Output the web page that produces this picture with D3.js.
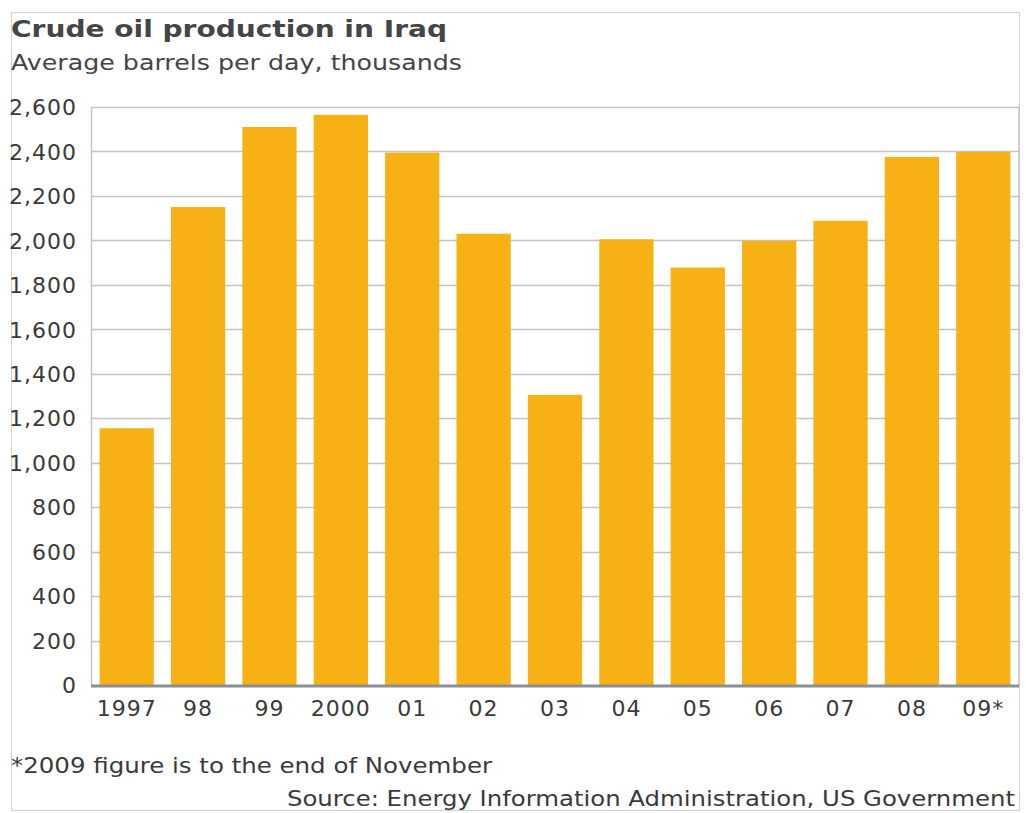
<!DOCTYPE html>
<html><head><meta charset="utf-8">
<script src="https://cdn.jsdelivr.net/npm/d3@7"></script>
<style>body{margin:0;background:#fff;} svg{display:block;}</style>
</head><body>
<svg id="chart" width="1026" height="813"></svg>
<script>
const years = ["1997","98","99","2000","01","02","03","04","05","06","07","08","09*"];
const production = [1155, 2150, 2510, 2565, 2395, 2030, 1305, 2005, 1878, 1998, 2088, 2375, 2398];
const yTicks = [0,200,400,600,800,1000,1200,1400,1600,1800,2000,2200,2400,2600];

const svg = d3.select("#chart");
const font = "Verdana, 'DejaVu Sans', sans-serif";
const m = {left: 91, right: 1019, top: 107, bottom: 685};

// frame
svg.append("rect").attr("x",11.5).attr("y",12.5).attr("width",1008).attr("height",798)
  .attr("fill","none").attr("stroke","#d0d0d0").attr("stroke-width",1);

const x = d3.scaleBand().domain(years).range([m.left, m.right]).paddingInner(0.24).paddingOuter(0.12);
const y = d3.scaleLinear().domain([0,2600]).range([m.bottom, m.top]);

// gridlines
svg.append("g").selectAll("line").data(yTicks.filter(d=>d>0)).join("line")
  .attr("x1",m.left).attr("x2",m.right)
  .attr("y1",d=>Math.round(y(d))+0.5).attr("y2",d=>Math.round(y(d))+0.5)
  .attr("stroke","#c4c4c4").attr("stroke-width",1.5);
// plot side lines
svg.append("line").attr("x1",m.left+0.5).attr("x2",m.left+0.5).attr("y1",m.top).attr("y2",m.bottom)
  .attr("stroke","#c4c4c4").attr("stroke-width",1.5);
svg.append("line").attr("x1",m.right).attr("x2",m.right).attr("y1",m.top).attr("y2",m.bottom)
  .attr("stroke","#c4c4c4").attr("stroke-width",1.5);

// bars
svg.append("g").selectAll("rect").data(years).join("rect")
  .attr("x",d=>x(d)).attr("width",x.bandwidth())
  .attr("y",(d,i)=>y(production[i])).attr("height",(d,i)=>y(0)-y(production[i]))
  .attr("fill","#F8B115");

// baseline
svg.append("line").attr("x1",m.left).attr("x2",m.right).attr("y1",y(0)+1).attr("y2",y(0)+1)
  .attr("stroke","#8a8f94").attr("stroke-width",3);

// y axis labels
const yAxis = d3.axisLeft(y).tickValues(yTicks).tickFormat(d3.format(",")).tickSize(0).tickPadding(14);
const gy = svg.append("g").attr("transform",`translate(${m.left},0)`).call(yAxis);
gy.select(".domain").remove();
gy.selectAll("text").attr("font-family",font).attr("font-size",22).attr("letter-spacing","1px")
  .attr("fill","#3a3a3a").attr("dy","0.35em");

// x axis labels
const xAxis = d3.axisBottom(x).tickSize(0).tickPadding(15);
const gx = svg.append("g").attr("transform",`translate(0,${m.bottom})`).call(xAxis);
gx.select(".domain").remove();
gx.selectAll("text").attr("font-family",font).attr("font-size",22).attr("letter-spacing","1px").attr("fill","#3a3a3a");

// titles
function txt(s, xp, yp, size, len, opts={}) {
  const t = svg.append("text").attr("x",xp).attr("y",yp).text(s)
    .attr("font-family",font).attr("font-size",size).attr("fill",opts.fill||"#444")
    .attr("textLength",len).attr("lengthAdjust","spacingAndGlyphs");
  if (opts.bold) t.attr("font-weight","bold");
  if (opts.anchor) t.attr("text-anchor",opts.anchor);
  return t;
}
txt("Crude oil production in Iraq", 11, 37, 23, 436, {bold:true, fill:"#454545"});
txt("Average barrels per day, thousands", 11, 70, 22, 451);
txt("*2009 figure is to the end of November", 11, 773, 21, 481, {fill:"#3a3a3a"});
txt("Source: Energy Information Administration, US Government", 287, 806, 21, 728, {fill:"#3a3a3a"});
</script>
</body></html>
